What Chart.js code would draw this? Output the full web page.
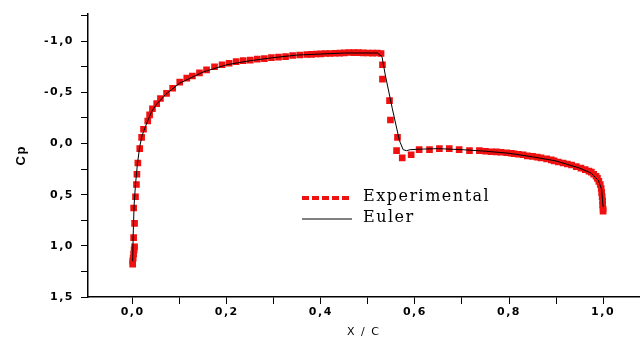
<!DOCTYPE html>
<html>
<head>
<meta charset="utf-8">
<script src="https://cdn.jsdelivr.net/npm/chart.js@4/dist/chart.umd.min.js"></script>
<style>
  body { margin: 0; background: #fff; }
  canvas { display: block; }
</style>
</head>
<body>
<canvas id="cp" width="644" height="343"></canvas>
<script>
// pressure coefficient along the chord, measured points
var expX = [0.0, 0.0, 0.001, 0.002, 0.003, 0.004, 0.002, 0.004, 0.002, 0.006, 0.008, 0.009, 0.011, 0.015, 0.019, 0.023,
    0.032, 0.036, 0.042, 0.051, 0.059, 0.072, 0.085, 0.1, 0.115, 0.127, 0.142, 0.157, 0.174, 0.19, 0.205, 0.22,
    0.235, 0.25, 0.265, 0.28, 0.295, 0.31, 0.325, 0.34, 0.355, 0.37, 0.38, 0.39, 0.4, 0.41, 0.42, 0.43, 0.44,
    0.45, 0.46, 0.47, 0.48, 0.49, 0.5, 0.51, 0.52, 0.528,
    0.531, 0.531, 0.546, 0.548, 0.563, 0.561, 0.573, 0.592, 0.609,
    0.631, 0.652, 0.673, 0.694, 0.716, 0.737, 0.75, 0.762, 0.773, 0.783, 0.795, 0.805, 0.811, 0.82, 0.83, 0.839,
    0.85, 0.86, 0.868, 0.88, 0.89, 0.896, 0.905, 0.915, 0.924, 0.933, 0.943, 0.953, 0.962, 0.97, 0.975, 0.98,
    0.985, 0.988, 0.991, 0.994, 0.996, 0.997, 0.998, 0.999, 0.999, 1.0, 1.0];
var expCp = [1.18, 1.15, 1.12, 1.08, 1.04, 1.01, 0.92, 0.78, 0.63, 0.52, 0.40, 0.30, 0.19, 0.05, -0.06, -0.14,
    -0.22, -0.28, -0.34, -0.39, -0.44, -0.49, -0.54, -0.6, -0.64, -0.66, -0.69, -0.72, -0.75, -0.77, -0.785, -0.8,
    -0.81, -0.815, -0.825, -0.83, -0.84, -0.845, -0.85, -0.86, -0.865, -0.87, -0.872, -0.875, -0.877, -0.88, -0.88, -0.882, -0.884,
    -0.886, -0.89, -0.888, -0.888, -0.886, -0.885, -0.884, -0.885, -0.88,
    -0.77, -0.63, -0.42, -0.23, -0.06, 0.07, 0.14, 0.11, 0.06,
    0.06, 0.05, 0.05, 0.06, 0.07, 0.07, 0.075, 0.08, 0.082, 0.085, 0.09, 0.095, 0.1, 0.105, 0.11, 0.12,
    0.125, 0.133, 0.14, 0.15, 0.16, 0.17, 0.18, 0.19, 0.2, 0.21, 0.225, 0.24, 0.255, 0.27, 0.28, 0.3,
    0.32, 0.34, 0.37, 0.4, 0.44, 0.48, 0.52, 0.56, 0.6, 0.64, 0.66];

// Euler solution
var eulerX = [0.0, 0.001, 0.003, 0.006, 0.01, 0.015, 0.02, 0.03, 0.04, 0.05, 0.07, 0.1, 0.15, 0.2, 0.25, 0.3,
    0.35, 0.4, 0.45, 0.52, 0.53, 0.537, 0.552, 0.567, 0.575, 0.582, 0.59, 0.61, 0.65, 0.7, 0.75, 0.8,
    0.85, 0.9, 0.95, 0.975, 0.99, 0.997, 1.0];
var eulerCp = [1.15, 0.9, 0.6, 0.4, 0.2, 0.03, -0.08, -0.2, -0.31, -0.38, -0.48, -0.59, -0.7, -0.77, -0.81, -0.84,
    -0.865, -0.875, -0.885, -0.885, -0.85, -0.67, -0.34, -0.03, 0.06, 0.07, 0.06, 0.055, 0.05, 0.06, 0.075, 0.095,
    0.13, 0.17, 0.24, 0.29, 0.36, 0.45, 0.62];

var legendItems = ["Experimental", "Euler"];

function toPoints(xs, ys) {
    return xs.map(function(x, i) { return { x: x, y: ys[i] }; });
}

function comma(v) {
    return v.toFixed(1).replace(".", ",");
}

var tickFont = { family: "'DejaVu Sans', sans-serif", size: 11, weight: "bold" };

// wide spaced lettering for the axis text
var spacing = {
    id: "spacing",
    beforeDraw: function(chart) {
        chart.ctx.letterSpacing = "1.5px";
    }
};

// small legend drawn inside the plot
var legendBox = {
    id: "legendBox",
    afterDraw: function(chart) {
        var ctx = chart.ctx;
        ctx.save();
        ctx.lineWidth = 4;
        ctx.strokeStyle = "#ee1111";
        ctx.setLineDash([7, 3]);
        ctx.beginPath();
        ctx.moveTo(302, 198);
        ctx.lineTo(352, 198);
        ctx.stroke();
        ctx.setLineDash([]);
        ctx.lineWidth = 1;
        ctx.strokeStyle = "#000";
        ctx.beginPath();
        ctx.moveTo(302, 219);
        ctx.lineTo(352, 219);
        ctx.stroke();
        ctx.fillStyle = "#000";
        ctx.font = "16px 'DejaVu Serif', serif";
        ctx.letterSpacing = "1.5px";
        ctx.textBaseline = "middle";
        ctx.fillText(legendItems[0], 363, 197);
        ctx.fillText(legendItems[1], 363, 218);
        ctx.restore();
    }
};

var chart = new Chart(document.getElementById("cp").getContext("2d"), {
    type: "scatter",
    data: {
        datasets: [
            {
                label: legendItems[1],
                data: toPoints(eulerX, eulerCp),
                showLine: true,
                borderColor: "#000",
                borderWidth: 1,
                pointRadius: 0,
                order: 0
            },
            {
                label: legendItems[0],
                data: toPoints(expX, expCp),
                showLine: false,
                pointStyle: "rect",
                pointRadius: 4.7,
                pointBorderWidth: 0,
                backgroundColor: "#f01010",
                order: 1
            }
        ]
    },
    options: {
        responsive: false,
        animation: false,
        layout: { padding: { top: 5, right: 0, left: 0, bottom: 0 } },
        plugins: {
            legend: { display: false },
            tooltip: { enabled: false }
        },
        scales: {
            x: {
                type: "linear",
                min: -0.095,
                max: 1.077,
                border: { color: "#000", width: 1.5 },
                grid: { drawOnChartArea: false, color: "#000", tickLength: 7 },
                ticks: {
                    stepSize: 0.1,
                    includeBounds: false,
                    autoSkip: false,
                    maxRotation: 0,
                    padding: 2,
                    color: "#000",
                    font: tickFont,
                    callback: function(v) {
                        return Math.round(v * 10) % 2 === 0 ? comma(v) : "";
                    }
                },
                title: {
                    display: true,
                    text: "X / C",
                    color: "#000",
                    font: { family: "'DejaVu Sans', sans-serif", size: 11 },
                    padding: { top: 0, bottom: 4 }
                },
                afterFit: function(scale) { scale.height = 46; }
            },
            y: {
                type: "linear",
                reverse: true,
                min: -1.27,
                max: 1.5,
                border: { color: "#000", width: 1.5 },
                grid: { drawOnChartArea: false, color: "#000", tickLength: 7 },
                ticks: {
                    stepSize: 0.25,
                    includeBounds: false,
                    autoSkip: false,
                    padding: 7,
                    color: "#000",
                    font: tickFont,
                    callback: function(v) {
                        return Math.round(v * 4) % 2 === 0 ? comma(v) : "";
                    }
                },
                title: {
                    display: true,
                    text: "Cp",
                    color: "#000",
                    font: { family: "'Liberation Sans', Arial, sans-serif", size: 13, weight: "bold" },
                    padding: { top: 14, bottom: 0 }
                },
                afterFit: function(scale) { scale.width = 88; }
            }
        }
    },
    plugins: [spacing, legendBox]
});
</script>
</body>
</html>
